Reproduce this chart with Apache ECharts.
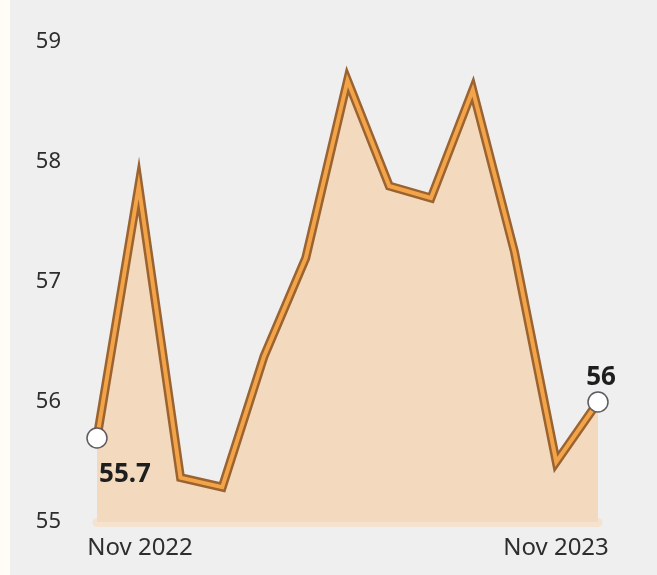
<!DOCTYPE html>
<html><head><meta charset="utf-8">
<script src="https://cdn.jsdelivr.net/npm/echarts@6/dist/echarts.min.js"></script>
<style>
html,body{margin:0;padding:0;background:#fffdf6;}
#c{position:absolute;left:10px;top:0;width:647px;height:575px;background:#efefef;}
</style></head>
<body><div id="c"></div>
<script>
const categories = ['Nov 2022','Dec 2022','Jan 2023','Feb 2023','Mar 2023','Apr 2023','May 2023','Jun 2023','Jul 2023','Aug 2023','Sep 2023','Oct 2023','Nov 2023'];
const values = [55.7, 57.8, 55.37, 55.29, 56.38, 57.2, 58.68, 57.8, 57.7, 58.6, 57.25, 55.5, 56.0];
const yTicks = [55, 56, 57, 58, 59];

const last = values.length - 1;
const topData = values.map((v, i) => {
  if (i === 0) return {value: v, symbol: 'circle', symbolSize: 20,
    label: {show: true, position: 'bottom', offset: [28, 8]}};
  if (i === last) return {value: v, symbol: 'circle', symbolSize: 20,
    label: {show: true, position: 'top', offset: [3, 4]}};
  return {value: v, symbol: 'none'};
});

const labelFont = {color: '#2e2e2e', fontSize: 24, fontFamily: 'Noto Sans'};

const chart = echarts.init(document.getElementById('c'));
chart.setOption({
  animation: false,
  backgroundColor: '#efefef',
  grid: {left: 87, right: 59, top: 42, bottom: 53},
  xAxis: {
    type: 'category', data: categories, boundaryGap: false,
    axisLine: {show: true, lineStyle: {color: '#f6e3cf', width: 9}},
    axisTick: {show: false},
    axisLabel: Object.assign({}, labelFont, {
      margin: 14,
      interval: (i) => i === 0 || i === last,
      formatter: (val, i) => i === 0 ? '{a|' + val + '}' : '{b|' + val + '}',
      rich: {
        a: Object.assign({}, labelFont, {padding: [0, 0, 0, 86]}),
        b: Object.assign({}, labelFont, {padding: [0, 84, 0, 0]})
      }
    }),
    splitLine: {show: false}
  },
  yAxis: {
    type: 'value', min: yTicks[0], max: yTicks[yTicks.length - 1], interval: 1,
    axisLine: {show: false}, axisTick: {show: false},
    splitLine: {show: false},
    axisLabel: Object.assign({}, labelFont, {fontSize: 22, margin: 36})
  },
  series: [
    {
      type: 'line', data: values, symbol: 'none', z: 2,
      lineStyle: {color: '#9a6330', width: 9, join: 'miter'},
      areaStyle: {color: '#f3d9bd', opacity: 1}
    },
    {
      type: 'line', data: topData, z: 3,
      lineStyle: {color: '#f4a448', width: 4, join: 'miter'},
      itemStyle: {color: '#ffffff', borderColor: '#5e5a60', borderWidth: 1.5},
      label: {color: '#1e1e1e', fontSize: 26, fontWeight: 'bold', fontFamily: 'Noto Sans',
        formatter: (p) => String(p.value)}
    }
  ]
});
</script></body></html>
